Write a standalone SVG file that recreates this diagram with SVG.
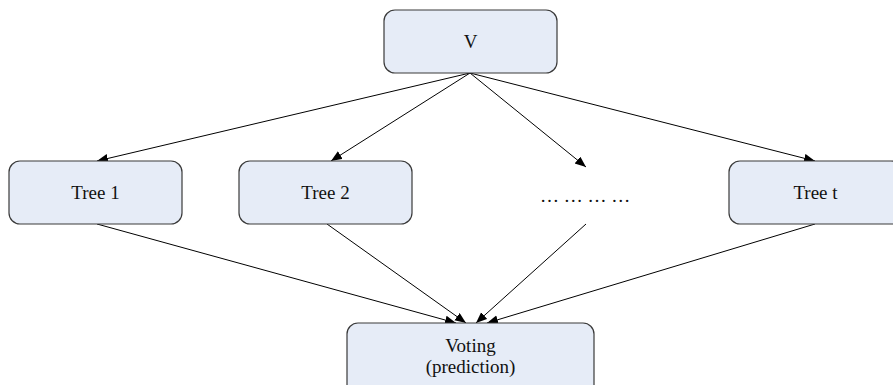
<svg xmlns="http://www.w3.org/2000/svg" width="893" height="385" viewBox="0 0 893 385">
  <style>
    .box { fill: #e6ecf7; stroke: #3a3a3a; stroke-width: 1.2; }
    .label { font-family: "Liberation Serif", "Times New Roman", serif; font-size: 19px; fill: #111; text-anchor: middle; }
    .edge { stroke: #000; stroke-width: 1; fill: none; marker-end: url(#arrow); }
  </style>
  <defs>
    <marker id="arrow" markerUnits="userSpaceOnUse" markerWidth="12" markerHeight="10" refX="11" refY="4.5" orient="auto">
      <path d="M0,0 L11,4.5 L0,9 Z" fill="#000"/>
    </marker>
  </defs>

  <rect width="893" height="385" fill="#fff"/>

  <!-- connectors -->
  <g id="connectors">
    <line class="edge" x1="470" y1="73" x2="97" y2="161"/>
    <line class="edge" x1="470" y1="73" x2="331" y2="161"/>
    <line class="edge" x1="470" y1="73" x2="586" y2="167"/>
    <line class="edge" x1="470" y1="73" x2="815" y2="161"/>
    <line class="edge" x1="97" y1="224" x2="456" y2="323"/>
    <line class="edge" x1="327" y1="224" x2="466" y2="323"/>
    <line class="edge" x1="586" y1="224" x2="476" y2="323"/>
    <line class="edge" x1="815" y1="224" x2="487" y2="323"/>
  </g>

  <!-- root node -->
  <g id="node-v">
    <rect class="box" x="384" y="10" width="173" height="63" rx="11" ry="11"/>
    <text class="label" x="470.5" y="48">V</text>
  </g>

  <!-- tree nodes -->
  <g id="node-tree1">
    <rect class="box" x="9" y="161" width="173" height="63" rx="11" ry="11"/>
    <text class="label" x="95.5" y="199">Tree 1</text>
  </g>
  <g id="node-tree2">
    <rect class="box" x="239" y="161" width="173" height="63" rx="11" ry="11"/>
    <text class="label" x="325.5" y="199">Tree 2</text>
  </g>
  <g id="node-dots">
    <text class="label" x="585" y="202">… … … …</text>
  </g>
  <g id="node-treet">
    <rect class="box" x="729" y="161" width="173" height="63" rx="11" ry="11"/>
    <text class="label" x="815.5" y="199">Tree t</text>
  </g>

  <!-- voting node -->
  <g id="node-voting">
    <rect class="box" x="347" y="323" width="247" height="75" rx="11" ry="11"/>
    <text class="label" x="470.5" y="352">Voting</text>
    <text class="label" x="470.5" y="373">(prediction)</text>
  </g>
</svg>
